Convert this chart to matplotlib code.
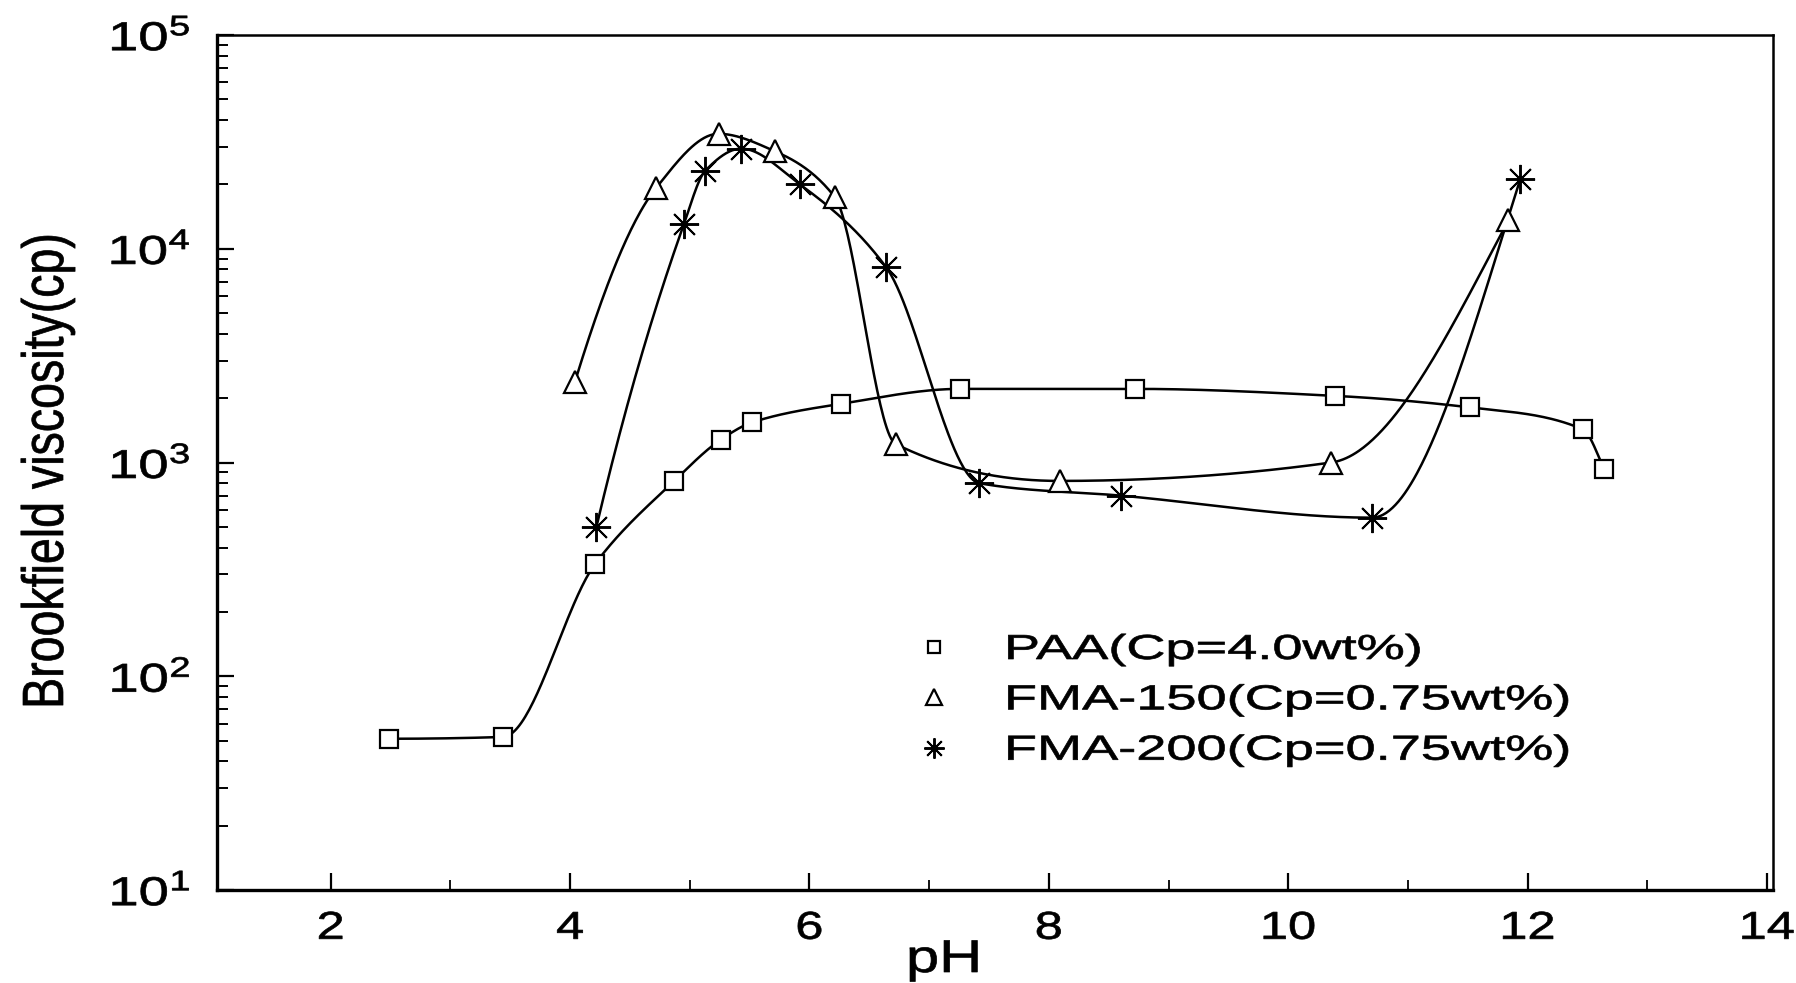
import numpy as np
import matplotlib
matplotlib.use("Agg")
import matplotlib.pyplot as plt
from matplotlib import patheffects
from matplotlib.transforms import Affine2D
from matplotlib.ticker import FixedLocator, MultipleLocator, LogLocator, FuncFormatter, NullFormatter

# ---------------- data ----------------
paa_ph = [2.49, 3.44, 4.21, 4.87, 5.26, 5.52, 6.26, 7.26, 8.72, 10.39, 11.52, 12.46, 12.64]
paa_visc = [51, 52, 336, 820, 1280, 1540, 1880, 2210, 2210, 2050, 1810, 1430, 930]

fma150_ph = [4.04, 4.72, 5.24, 5.71, 6.21, 6.72, 8.09, 10.36, 11.84]
fma150_visc = [2380, 19300, 34500, 28600, 17500, 1220, 820, 1000, 13600]

fma200_ph = [4.22, 4.95, 5.13, 5.43, 5.92, 6.64, 7.42, 8.60, 10.70, 11.94]
fma200_visc = [500, 13000, 23200, 29400, 20000, 8200, 800, 700, 552, 21300]

labels = ["PAA(Cp=4.0wt%)", "FMA-150(Cp=0.75wt%)", "FMA-200(Cp=0.75wt%)"]
x_ticks = [2, 4, 6, 8, 10, 12, 14]
y_ticks = [1e1, 1e2, 1e3, 1e4, 1e5]
x_label = "pH"
y_label = "Brookfield viscosity(cp)"


# ---------------- helpers ----------------
def pchip_curve(x, y, num=600):
    """Shape-preserving cubic through the points (in log10 space) for the connecting line."""
    x = np.asarray(x, float)
    y = np.log10(np.asarray(y, float))
    n = len(x)
    h = np.diff(x)
    d = np.diff(y) / h
    m = np.zeros(n)
    for k in range(1, n - 1):
        if d[k - 1] * d[k] > 0:
            w1 = 2 * h[k] + h[k - 1]
            w2 = h[k] + 2 * h[k - 1]
            m[k] = (w1 + w2) / (w1 / d[k - 1] + w2 / d[k])

    def end(h0, h1, d0, d1):
        mm = ((2 * h0 + h1) * d0 - h0 * d1) / (h0 + h1)
        if np.sign(mm) != np.sign(d0):
            mm = 0.0
        elif np.sign(d0) != np.sign(d1) and abs(mm) > abs(3 * d0):
            mm = 3 * d0
        return mm

    m[0] = end(h[0], h[1], d[0], d[1])
    m[-1] = end(h[-1], h[-2], d[-1], d[-2])
    xs = np.linspace(x[0], x[-1], num)
    idx = np.clip(np.searchsorted(x, xs) - 1, 0, n - 2)
    t = (xs - x[idx]) / h[idx]
    h00 = 2 * t**3 - 3 * t**2 + 1
    h10 = t**3 - 2 * t**2 + t
    h01 = -2 * t**3 + 3 * t**2
    h11 = t**3 - t**2
    ys = h00 * y[idx] + h10 * h[idx] * m[idx] + h01 * y[idx + 1] + h11 * h[idx] * m[idx + 1]
    return xs, 10 ** ys


class Stretch(patheffects.AbstractPathEffect):
    """Widen glyphs (the reference scan uses horizontally stretched, heavy lettering)."""

    def __init__(self, sx=1.0, sy=1.0, anchor="center", lw=0.0):
        super().__init__()
        self.sx, self.sy, self.anchor, self.lw = sx, sy, anchor, lw

    def draw_path(self, renderer, gc, tpath, affine, rgbFace=None):
        ext = tpath.get_extents()
        if self.anchor == "left":
            cx = ext.x0
        elif self.anchor == "right":
            cx = ext.x1
        else:
            cx = 0.5 * (ext.x0 + ext.x1)
        cy = 0.5 * (ext.y0 + ext.y1)
        t = Affine2D().translate(-cx, -cy).scale(self.sx, self.sy).translate(cx, cy) + affine
        if self.lw > 0 and rgbFace is not None:
            gc2 = renderer.new_gc()
            gc2.copy_properties(gc)
            gc2.set_linewidth(self.lw)
            gc2.set_foreground(rgbFace)
            renderer.draw_path(gc2, tpath, t, rgbFace)
            gc2.restore()
        else:
            renderer.draw_path(gc, tpath, t, rgbFace)


# ---------------- style ----------------
plt.rcParams["font.family"] = ["Liberation Sans", "DejaVu Sans"]
plt.rcParams["mathtext.fontset"] = "custom"
plt.rcParams["mathtext.rm"] = "Liberation Sans"
plt.rcParams["mathtext.it"] = "Liberation Sans:italic"
plt.rcParams["mathtext.bf"] = "Liberation Sans:bold"
plt.rcParams["mathtext.default"] = "regular"

W, H = 1796, 983
fig = plt.figure(figsize=(W / 100, H / 100), dpi=100)
L, R, T, B = 217, 1773, 35, 890
ax = fig.add_axes([L / W, 1 - B / H, (R - L) / W, (B - T) / H])

ax.set_yscale("log")
ax.set_xlim(1.05, 14.05)
ax.set_ylim(1e1, 1e5)

series = [
    (paa_ph, paa_visc, dict(marker="s", ms=13, mew=1.6)),
    (fma150_ph, fma150_visc, dict(marker="^", ms=16, mew=1.6)),
    (fma200_ph, fma200_visc, dict(marker=(8, 2, 0), ms=21, mew=1.4)),
]
for (px, py, mk), lab in zip(series, labels):
    cx, cy = pchip_curve(px, py)
    ax.plot(cx, cy, color="black", lw=1.8, zorder=2)
    ax.plot(px, py, linestyle="none", color="black", mfc="white", mec="black",
            label=lab, zorder=3, **mk)

# ticks
ax.xaxis.set_major_locator(FixedLocator(x_ticks))
ax.xaxis.set_minor_locator(MultipleLocator(1))
ax.yaxis.set_major_locator(FixedLocator(y_ticks))
ax.yaxis.set_minor_locator(LogLocator(base=10, subs=np.arange(2, 10)))
ax.yaxis.set_minor_formatter(NullFormatter())
ax.yaxis.set_major_formatter(FuncFormatter(lambda v, p: r"$\mathregular{10^{%d}}$" % round(np.log10(v))))
ax.xaxis.set_major_formatter(FuncFormatter(lambda v, p: "%d" % v))

ax.tick_params(which="both", direction="in", top=False, right=False, color="black")
ax.tick_params(axis="x", which="major", length=12, width=1.6, pad=15, labelsize=28)
ax.tick_params(axis="x", which="minor", length=7, width=1.3)
ax.tick_params(axis="y", which="major", length=12, width=1.6, pad=19, labelsize=29)
ax.tick_params(axis="y", which="minor", length=8, width=1.4)

for s in ["left", "bottom"]:
    ax.spines[s].set_linewidth(2.4)
for s in ["top", "right"]:
    ax.spines[s].set_linewidth(1.8)

for lbl in ax.get_xticklabels():
    lbl.set_path_effects([Stretch(sx=1.3, anchor="center", lw=0.5)])
for lbl in ax.get_yticklabels():
    lbl.set_path_effects([Stretch(sx=1.35, anchor="right", lw=0.5)])

# axis labels
ax.set_xlabel(x_label, fontsize=33)
ax.xaxis.label.set_va("baseline")
ax.xaxis.set_label_coords((944 - L) / (R - L), -(972 - B) / (B - T))
ax.xaxis.label.set_path_effects([Stretch(sx=1.3, lw=0.5)])

ax.set_ylabel(y_label, fontsize=33.5)
ax.yaxis.label.set_va("center")
ax.yaxis.label.set_ha("center")
ax.yaxis.set_label_coords((48 - L) / (R - L), (B - 471) / (B - T))
ax.yaxis.label.set_path_effects([Stretch(sy=1.25, lw=0.5)])

# legend
leg = ax.legend(loc="upper left", bbox_to_anchor=((910 - L) / (R - L), (B - 633) / (B - T)),
                frameon=False, fontsize=25, borderpad=0, borderaxespad=0,
                handlelength=1.4, handletextpad=1.35, labelspacing=0.5,
                markerscale=0.7)
for t in leg.get_texts():
    t.set_path_effects([Stretch(sx=1.56, anchor="left", lw=0.5)])

fig.savefig("out.png", dpi=100, facecolor="white")
